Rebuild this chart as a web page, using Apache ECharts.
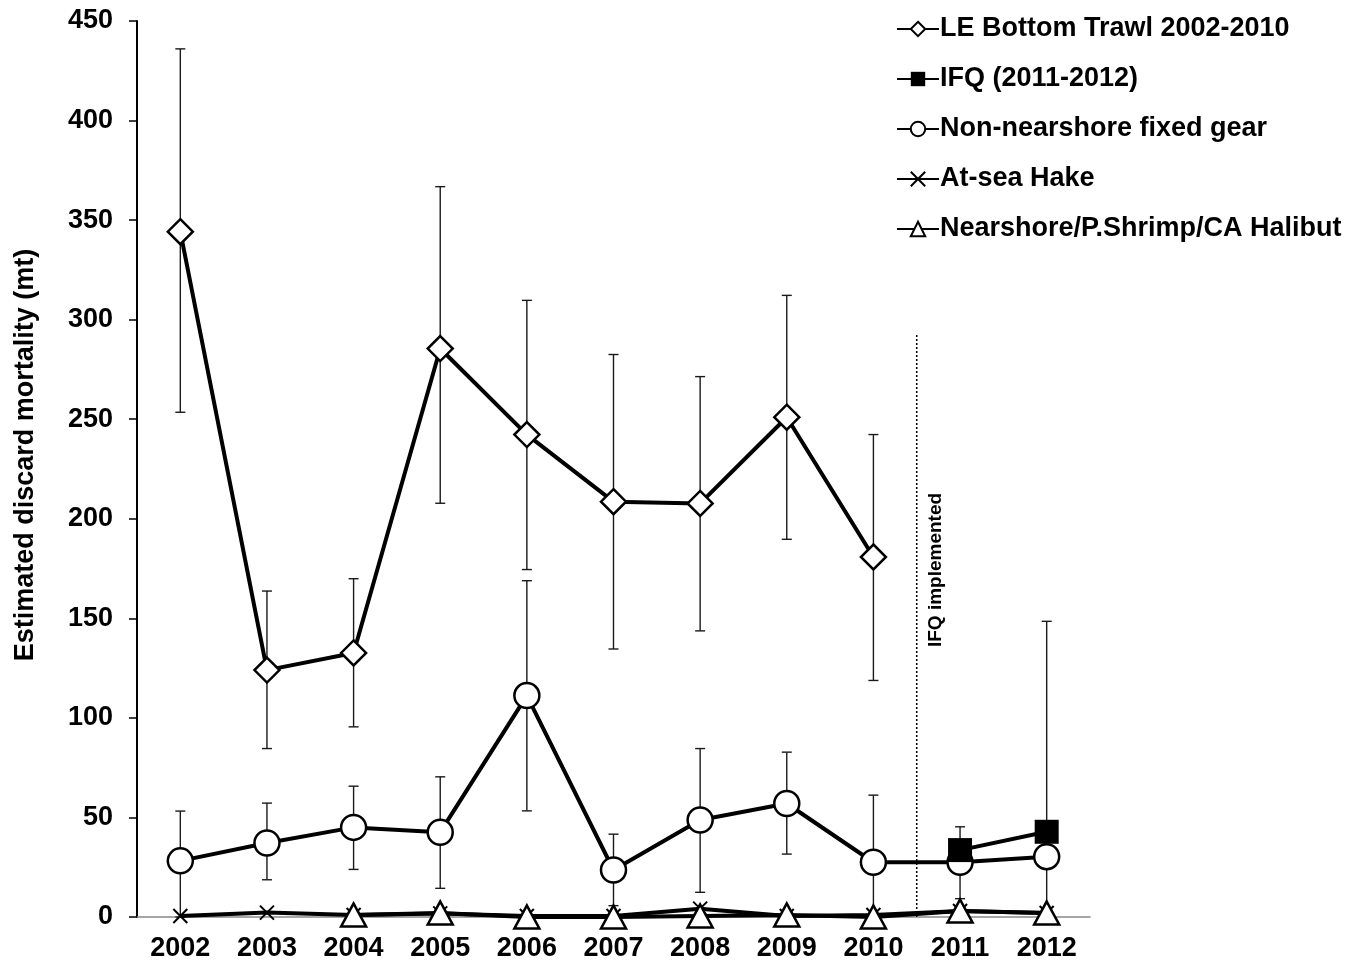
<!DOCTYPE html>
<html>
<head>
<meta charset="utf-8">
<script src="https://cdn.jsdelivr.net/npm/echarts@6/dist/echarts.min.js"></script>
<style>
  html, body { margin: 0; padding: 0; background: #fff; }
  #chart { width: 1370px; height: 968px; }
</style>
</head>
<body>
<div id="chart"></div>
<script>
// Years on the category axis
const years = ['2002', '2003', '2004', '2005', '2006', '2007', '2008', '2009', '2010', '2011', '2012'];

// LE Bottom Trawl 2002-2010 (estimate with lower/upper interval)
const leTrawl     = [344.2, 124.0, 132.6, 285.5, 242.3, 208.6, 207.7, 251.0, 180.8, null, null];
const leTrawlLow  = [253.5, 84.6, 95.5, 207.8, 174.5, 134.6, 143.7, 189.7, 118.8, null, null];
const leTrawlHigh = [436.0, 163.7, 169.9, 366.8, 309.7, 282.5, 271.4, 312.2, 242.3, null, null];

// IFQ (2011-2012)
const ifq     = [null, null, null, null, null, null, null, null, null, 33.6, 42.8];
const ifqLow  = [null, null, null, null, null, null, null, null, null, null, 0];
const ifqHigh = [null, null, null, null, null, null, null, null, null, null, 148.5];

// Non-nearshore fixed gear
const fixedGear     = [28.2, 37.2, 45.0, 42.6, 111.2, 23.6, 48.7, 57.0, 27.5, 27.5, 30.3];
const fixedGearLow  = [0, 18.7, 23.9, 14.4, 53.3, 5.7, 12.4, 31.6, 0, 9.2, null];
const fixedGearHigh = [53.2, 57.2, 65.7, 70.4, 168.9, 41.6, 84.6, 82.8, 61.2, 45.3, null];

// At-sea Hake
const atSeaHake = [0.5, 2.2, 1.0, 1.8, 0.5, 0.5, 4.2, 0.5, 1.0, 3.0, 2.0];

// Nearshore/P.Shrimp/CA Halibut
const nearshore = [null, null, 1.0, 2.0, 0.0, 0.0, 0.5, 1.0, 0.0, 3.0, 2.0];

// Year at which IFQ management began (between 2010 and 2011) and height of its marker line
const ifqStartYear = 2010.5;
const ifqLineTop = 293;

// Y axis range
const yMin = 0, yMax = 450, yStep = 50;

const FONT = '"Liberation Sans", Arial, sans-serif';

function intervals(low, high) {
  const out = [];
  low.forEach((lo, i) => {
    if (lo != null && high[i] != null) out.push([i, lo, high[i]]);
  });
  return out;
}

const errData = []
  .concat(intervals(leTrawlLow, leTrawlHigh))
  .concat(intervals(fixedGearLow, fixedGearHigh))
  .concat(intervals(ifqLow, ifqHigh));

function renderErrorBar(params, api) {
  const x = api.value(0);
  const lo = api.coord([x, api.value(1)]);
  const hi = api.coord([x, api.value(2)]);
  const half = 5;
  const style = { stroke: '#1a1a1a', lineWidth: 1.4 };
  return {
    type: 'group',
    children: [
      { type: 'line', shape: { x1: lo[0], y1: lo[1], x2: hi[0], y2: hi[1] }, style },
      { type: 'line', shape: { x1: hi[0] - half, y1: hi[1], x2: hi[0] + half, y2: hi[1] }, style },
      { type: 'line', shape: { x1: lo[0] - half, y1: lo[1], x2: lo[0] + half, y2: lo[1] }, style }
    ]
  };
}

const openMarker = { color: '#fff', borderColor: '#000', borderWidth: 2.5 };
const crossPath = 'path://M0,0L10,10M10,0L0,10';

const chart = echarts.init(document.getElementById('chart'), null, { renderer: 'canvas' });

chart.setOption({
  backgroundColor: '#fff',
  animation: false,
  textStyle: { fontFamily: FONT },
  grid: { left: 137, right: 280, top: 21, bottom: 51, containLabel: false },
  legend: {
    orient: 'vertical',
    left: 891,
    top: 9,
    itemWidth: 42,
    itemHeight: 18,
    itemGap: 20,
    lineStyle: { width: 2 },
    data: [
      'LE Bottom Trawl 2002-2010',
      'IFQ (2011-2012)',
      'Non-nearshore fixed gear',
      'At-sea Hake',
      'Nearshore/P.Shrimp/CA Halibut'
    ],
    textStyle: { fontFamily: FONT, fontWeight: 'bold', fontSize: 27, color: '#000', lineHeight: 30, padding: [0, 0, 0, -4] }
  },
  xAxis: [
    {
      type: 'category',
      data: years,
      boundaryGap: true,
      axisLine: { lineStyle: { color: '#888', width: 1.5 } },
      axisTick: { show: false },
      axisLabel: { color: '#000', fontWeight: 'bold', fontSize: 27, fontFamily: FONT, margin: 18 },
      splitLine: { show: false }
    },
    {
      type: 'value',
      min: 2001.5,
      max: 2012.5,
      show: false
    }
  ],
  yAxis: {
    type: 'value',
    min: yMin,
    max: yMax,
    interval: yStep,
    axisLine: { show: true, lineStyle: { color: '#000', width: 2 } },
    axisTick: { show: true, inside: false, length: 8, lineStyle: { color: '#000', width: 1.5 } },
    axisLabel: { color: '#000', fontWeight: 'bold', fontSize: 27, fontFamily: FONT, margin: 24 },
    splitLine: { show: false }
  },
  graphic: [
    {
      type: 'text',
      x: 26,
      y: 455,
      rotation: Math.PI / 2,
      style: {
        text: 'Estimated discard mortality (mt)',
        fontFamily: FONT,
        fontWeight: 'bold',
        fontSize: 27,
        fill: '#000',
        align: 'center',
        verticalAlign: 'middle'
      }
    },
    {
      type: 'text',
      x: 936,
      y: 570,
      rotation: Math.PI / 2,
      style: {
        text: 'IFQ implemented',
        fontFamily: FONT,
        fontWeight: 'bold',
        fontSize: 19,
        fill: '#000',
        align: 'center',
        verticalAlign: 'middle'
      }
    }
  ],
  series: [
    {
      name: 'error bars',
      type: 'custom',
      renderItem: renderErrorBar,
      data: errData,
      encode: { x: 0, y: [1, 2] },
      z: 1,
      silent: true
    },
    {
      name: 'IFQ start',
      type: 'line',
      xAxisIndex: 1,
      data: [[ifqStartYear, 0], [ifqStartYear, ifqLineTop]],
      symbol: 'none',
      lineStyle: { color: '#000', width: 1.5, type: [2, 2] },
      z: 1,
      silent: true
    },
    {
      name: 'At-sea Hake',
      type: 'line',
      data: atSeaHake,
      symbol: crossPath,
      symbolSize: 14,
      lineStyle: { color: '#000', width: 4 },
      itemStyle: { color: 'transparent', borderColor: '#000', borderWidth: 2 },
      z: 3
    },
    {
      name: 'Nearshore/P.Shrimp/CA Halibut',
      type: 'line',
      data: nearshore,
      symbol: 'triangle',
      symbolSize: [25, 23],
      lineStyle: { color: '#000', width: 4 },
      itemStyle: openMarker,
      z: 3
    },
    {
      name: 'Non-nearshore fixed gear',
      type: 'line',
      data: fixedGear,
      symbol: 'circle',
      symbolSize: 25,
      lineStyle: { color: '#000', width: 4 },
      itemStyle: openMarker,
      z: 4
    },
    {
      name: 'IFQ (2011-2012)',
      type: 'line',
      data: ifq,
      symbol: 'rect',
      symbolSize: 24,
      lineStyle: { color: '#000', width: 4 },
      itemStyle: { color: '#000', borderColor: '#000', borderWidth: 0 },
      z: 4
    },
    {
      name: 'LE Bottom Trawl 2002-2010',
      type: 'line',
      data: leTrawl,
      symbol: 'diamond',
      symbolSize: [25, 25],
      lineStyle: { color: '#000', width: 4 },
      itemStyle: openMarker,
      z: 4
    }
  ]
});
</script>
</body>
</html>
